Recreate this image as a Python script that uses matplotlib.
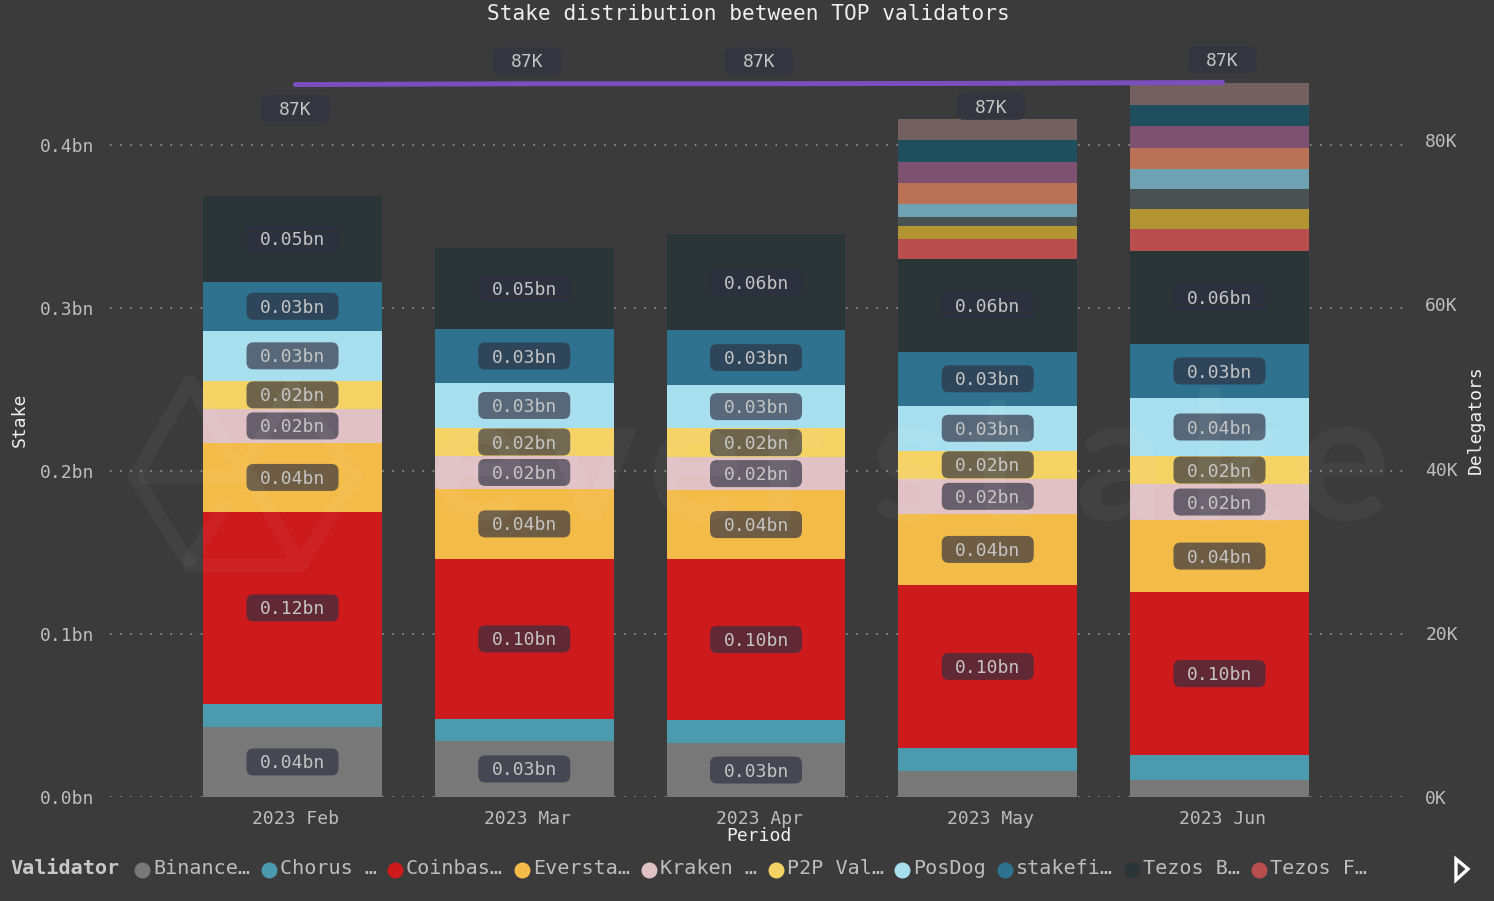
import numpy as np
import matplotlib
matplotlib.use('Agg')
import matplotlib.pyplot as plt
from matplotlib.lines import Line2D
from matplotlib.patches import FancyBboxPatch, Polygon
from matplotlib.transforms import IdentityTransform

# data (bn)
periods = ['2023 Feb', '2023 Mar', '2023 Apr', '2023 May', '2023 Jun']
binance = [0.0430, 0.0344, 0.0331, 0.0160, 0.0104]
chorus = [0.0141, 0.0135, 0.0141, 0.0141, 0.0153]
coinbase = [0.1178, 0.0982, 0.0988, 0.1000, 0.1000]
everstake = [0.0423, 0.0429, 0.0423, 0.0436, 0.0442]
kraken = [0.0209, 0.0202, 0.0202, 0.0215, 0.0221]
p2p = [0.0172, 0.0172, 0.0178, 0.0172, 0.0172]
posdog = [0.0307, 0.0276, 0.0264, 0.0276, 0.0356]
stakefish = [0.0301, 0.0331, 0.0337, 0.0331, 0.0331]
tezos_b = [0.0528, 0.0497, 0.0589, 0.0571, 0.0571]
tezos_f = [0, 0, 0, 0.0123, 0.0135]
extra_gold = [0, 0, 0, 0.0080, 0.0123]
extra_grey = [0, 0, 0, 0.0055, 0.0123]
extra_teal = [0, 0, 0, 0.0080, 0.0123]
extra_orange = [0, 0, 0, 0.0129, 0.0129]
extra_purple = [0, 0, 0, 0.0129, 0.0132]
extra_dark = [0, 0, 0, 0.0135, 0.0129]
extra_brown = [0, 0, 0, 0.0129, 0.0135]
delegators = [86.75, 86.85, 86.85, 86.9, 87.0]

series = [binance, chorus, coinbase, everstake, kraken, p2p, posdog, stakefish,
          tezos_b, tezos_f, extra_gold, extra_grey, extra_teal, extra_orange,
          extra_purple, extra_dark, extra_brown]
colors = ['#787878', '#4b9aad', '#cc1a1d', '#f3bc48', '#e0c2c5', '#f4d264', '#a8dfef',
          '#2e728f', '#2b3538', '#b94e4f', '#b39432', '#4a5153', '#6ea1b1', '#b97255',
          '#7d5270', '#1f4e5f', '#736160']
legend_names = ['Binance…', 'Chorus …', 'Coinbas…', 'Eversta…', 'Kraken …', 'P2P Val…',
                'PosDog', 'stakefi…', 'Tezos B…', 'Tezos F…']

BG = '#3b3b3b'
W, H = 1494, 901
plt.rcParams['font.family'] = ['DejaVu Sans Mono']

fig = plt.figure(figsize=(W / 100, H / 100), dpi=100, facecolor=BG)
ax = fig.add_axes([110 / W, 1 - 797 / H, 1300 / W, 752 / H], facecolor='none')
ax2 = ax.twinx()

ax.set_xlim(-0.7875, 4.822)
ax.set_ylim(0, 752 / 1630)
ax2.set_ylim(0, 752 / 8.2125)


def pill(target, cx, cy, w, h, col, alpha, z):
    # rounded box given in screen pixels
    p = FancyBboxPatch((cx - w / 2, cy - h / 2), w, h, boxstyle='round,pad=0,rounding_size=7',
                       fc=col, ec='none', alpha=alpha, transform=IdentityTransform(),
                       zorder=z, clip_on=False)
    target.add_artist(p)


x = np.arange(len(periods))
bottom = np.zeros(len(periods))
for vals, col in zip(series, colors):
    vals = np.array(vals)
    ax.bar(x, vals, 0.772, bottom=bottom, color=col, zorder=2)
    for i, v in enumerate(vals):
        # the small pieces have no label
        if v >= 0.0165:
            cx, cy = ax.transData.transform((i, bottom[i] + v / 2))
            pill(ax, cx, cy, 92, 27, '#2f3042', 0.68, 3)
            ax.annotate('%.2fbn' % v, (i, bottom[i] + v / 2), xytext=(0, -1.1), textcoords='offset points',
                        ha='center', va='center', fontsize=13, color='#c4c4c4', zorder=4)
    bottom += vals

ax.set_yticks([0, 0.1, 0.2, 0.3, 0.4])
ax.set_yticklabels(['0.0bn', '0.1bn', '0.2bn', '0.3bn', '0.4bn'], va='center_baseline')
ax.set_xticks(x + 0.013)
ax.set_xticklabels(periods)
ax.grid(axis='y', color='#a0a0a0', lw=1.1, linestyle=(0, (1, 5.6)), zorder=0)
ax.set_axisbelow(True)
ax.tick_params(axis='y', length=0, pad=11, labelsize=13, labelcolor='#bdbdbd')
ax.tick_params(axis='x', length=0, pad=9, labelsize=13, labelcolor='#bdbdbd')

ax2.set_yticks([0, 20, 40, 60, 80])
ax2.set_yticklabels(['0K', '20K', '40K', '60K', '80K'], va='center_baseline')
ax2.tick_params(axis='y', length=0, pad=11, labelsize=13, labelcolor='#bdbdbd')
ax2.plot(x + 0.013, delegators, color='#7b4fbe', lw=3.6, solid_capstyle='round', zorder=5)

# labels sit above the line, or lower where the bars leave room
label_dy = [-24, 23, 23, -23, 23]
for i, d in enumerate(delegators):
    cx, cy = ax2.transData.transform((x[i] + 0.013, d))
    pill(ax2, cx, cy + label_dy[i], 68, 27, '#33353f', 1, 6)
    ax2.text(cx, cy + label_dy[i] - 1.5, '87K', transform=IdentityTransform(), ha='center', va='center',
             fontsize=13, color='#c4c4c4', zorder=7)

for a in (ax, ax2):
    for s in a.spines.values():
        s.set_visible(False)

fig.text(748 / W, 1 - 14.5 / H, 'Stake distribution between TOP validators', ha='center', va='center',
         fontsize=15.2, color='#efefef')
fig.text(20 / W, 1 - 420 / H, 'Stake', rotation=90, ha='center', va='center', fontsize=13, color='#efefef')
fig.text(1476 / W, 1 - 420 / H, 'Delegators', rotation=90, ha='center', va='center', fontsize=13, color='#efefef')
fig.text(759 / W, 1 - 836 / H, 'Period', ha='center', va='center', fontsize=13, color='#efefef')

# legend
fig.text(10 / W, 1 - 868 / H, 'Validator', ha='left', va='center', fontsize=14.5, fontweight='bold', color='#c9c9c9')
legend_x = [142, 269, 395, 522, 649, 776, 902, 1005, 1132, 1259]
for lx, name, col in zip(legend_x, legend_names, colors):
    fig.add_artist(Line2D([lx / W], [1 - 870 / H], marker='o', ms=11.5, color=col, mec='none', ls='none'))
    fig.text((lx + 11) / W, 1 - 868 / H, name, ha='left', va='center', fontsize=14.5, color='#bdbdbd')
arrow = [(1456 / W, 1 - 859 / H), (1468 / W, 1 - 869 / H), (1456 / W, 1 - 880 / H)]
fig.add_artist(Polygon(arrow, closed=True, fill=False, ec='white', lw=2.4, transform=fig.transFigure))

# watermark
letters = 'everstake'
letter_x = [478, 590, 695, 790, 910, 1000, 1120, 1235, 1342]
for ch, lx in zip(letters, letter_x):
    fig.text(lx / W, 1 - 520 / H, ch, ha='center', va='baseline', fontsize=128, family='Lato',
             fontweight='bold', color='white', alpha=0.04, zorder=10)
logo_lines = [
    [(240, 470), (190, 382), (135, 477), (190, 565), (300, 565), (355, 477), (292, 385), (245, 468), (293, 553)],
    [(145, 477), (240, 477)],
    [(225, 505), (190, 560)],
]
for pts in logo_lines:
    fig.add_artist(Line2D([p[0] / W for p in pts], [1 - p[1] / H for p in pts], color='white', lw=10,
                          alpha=0.04, solid_joinstyle='round', solid_capstyle='round', zorder=10))

fig.savefig('out.png', dpi=100, facecolor=BG)
